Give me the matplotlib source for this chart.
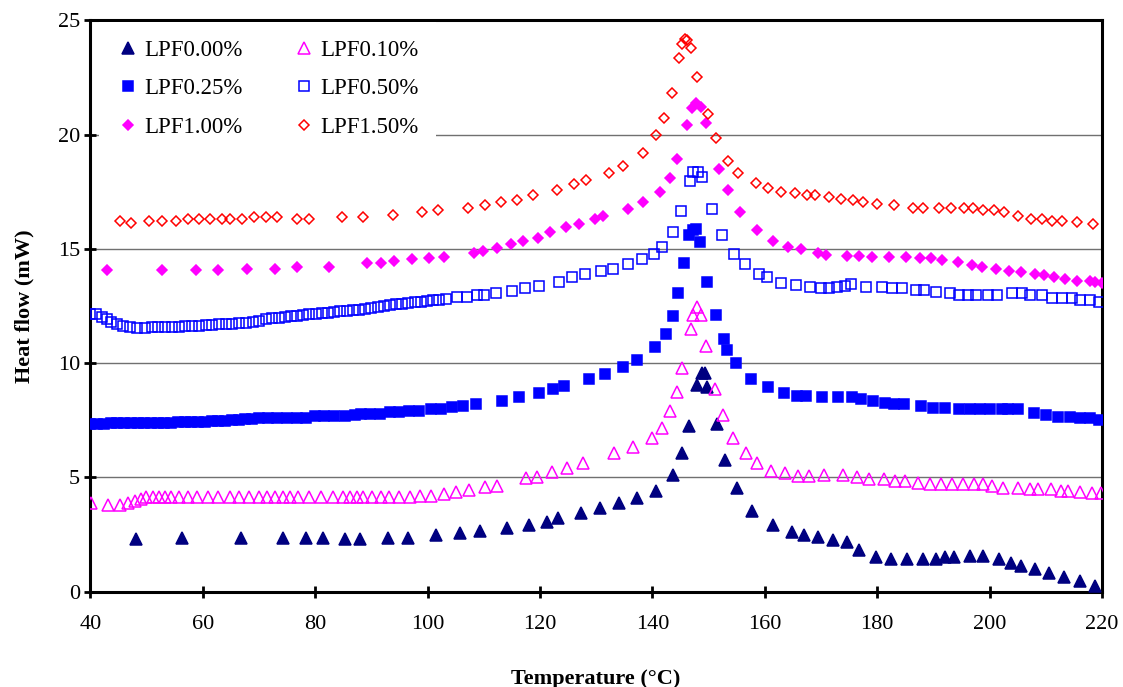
import matplotlib
matplotlib.use("Agg")
import matplotlib.pyplot as plt

# (temperature °C, heat flow mW)
lpf000 = [(48.1, 2.32), (56.4, 2.35), (66.8, 2.35), (74.3, 2.35), (78.3, 2.35), (81.4, 2.35),
          (85.3, 2.30), (88.0, 2.30), (92.9, 2.35), (96.6, 2.35), (101.5, 2.46), (105.7, 2.55),
          (109.3, 2.65), (114.2, 2.77), (118.1, 2.92), (121.2, 3.06), (123.3, 3.21), (127.3, 3.43),
          (130.7, 3.65), (134.0, 3.89), (137.3, 4.11), (140.7, 4.40), (143.7, 5.10), (145.3, 6.05),
          (146.5, 7.25), (148.0, 9.04), (148.8, 9.55), (149.4, 9.55), (149.8, 8.97), (151.5, 7.32),
          (152.9, 5.76), (155.0, 4.55), (157.8, 3.53), (161.4, 2.92), (164.8, 2.63), (167.0, 2.48),
          (169.4, 2.41), (172.1, 2.26), (174.6, 2.19), (176.7, 1.82), (179.8, 1.50), (182.5, 1.42),
          (185.3, 1.42), (188.2, 1.42), (190.4, 1.42), (192.0, 1.50), (193.7, 1.50), (196.5, 1.56),
          (198.9, 1.56), (201.7, 1.42), (203.8, 1.27), (205.6, 1.12), (208.1, 0.98), (210.5, 0.80),
          (213.3, 0.66), (216.0, 0.48), (218.8, 0.25)]

lpf010 = [(40.1, 3.87), (43.2, 3.79), (45.3, 3.79), (46.7, 3.89), (48.0, 3.98), (49.1, 4.04),
          (50.0, 4.13), (51.2, 4.13), (52.3, 4.13), (53.3, 4.13), (54.3, 4.13), (55.7, 4.13),
          (57.4, 4.13), (59.0, 4.13), (61.0, 4.13), (62.8, 4.13), (64.9, 4.13), (66.5, 4.13),
          (68.3, 4.13), (70.1, 4.13), (71.4, 4.13), (72.9, 4.13), (74.3, 4.13), (75.5, 4.13),
          (77.0, 4.13), (79.0, 4.13), (81.0, 4.13), (83.1, 4.13), (84.9, 4.13), (86.2, 4.13),
          (87.4, 4.13), (88.6, 4.13), (90.1, 4.13), (91.7, 4.13), (93.2, 4.13), (95.0, 4.13),
          (96.9, 4.13), (98.7, 4.19), (100.7, 4.19), (102.9, 4.27), (105.1, 4.36), (107.4, 4.45),
          (110.2, 4.59), (112.3, 4.64), (117.6, 4.96), (119.4, 5.03), (122.1, 5.25), (124.9, 5.40),
          (127.6, 5.62), (133.2, 6.05), (136.5, 6.34), (139.9, 6.74), (141.7, 7.17), (143.2, 7.92),
          (144.4, 8.75), (145.3, 9.77), (146.8, 11.48), (147.2, 12.10), (147.9, 12.44), (148.7, 12.10),
          (149.6, 10.75), (151.1, 8.88), (152.6, 7.72), (154.4, 6.74), (156.6, 6.05), (158.7, 5.62),
          (161.1, 5.29), (163.6, 5.18), (166.0, 5.07), (167.8, 5.07), (170.5, 5.10), (173.9, 5.10),
          (176.4, 5.00), (178.6, 4.92), (181.3, 4.92), (183.1, 4.86), (185.0, 4.86), (187.3, 4.77),
          (189.4, 4.71), (191.3, 4.71), (193.4, 4.71), (195.3, 4.71), (197.3, 4.71), (198.9, 4.71),
          (200.5, 4.62), (202.3, 4.52), (205.1, 4.52), (207.2, 4.48), (208.7, 4.48), (210.9, 4.48),
          (212.7, 4.42), (214.0, 4.42), (216.1, 4.37), (218.2, 4.33), (219.8, 4.33)]

lpf025 = [(40.0, 7.34), (41.2, 7.35), (42.4, 7.35), (43.6, 7.36), (44.8, 7.36), (46.0, 7.37),
          (47.2, 7.37), (48.4, 7.38), (49.6, 7.38), (50.8, 7.39), (52.0, 7.39), (53.2, 7.40),
          (54.4, 7.40), (55.6, 7.41), (56.8, 7.42), (58.0, 7.43), (59.2, 7.44), (60.4, 7.44),
          (61.6, 7.45), (62.8, 7.46), (64.0, 7.47), (65.2, 7.49), (66.4, 7.52), (67.6, 7.54),
          (68.8, 7.56), (70.0, 7.58), (71.7, 7.58), (73.3, 7.58), (75.0, 7.58), (76.7, 7.60),
          (78.3, 7.62), (80.0, 7.70), (81.6, 7.70), (83.3, 7.70), (85.3, 7.70), (87.1, 7.72),
          (88.2, 7.77), (89.8, 7.77), (91.5, 7.77), (93.3, 7.85), (95.0, 7.87), (96.7, 7.92),
          (98.4, 7.92), (100.6, 7.99), (102.4, 7.99), (104.3, 8.07), (106.4, 8.12), (108.6, 8.19),
          (113.2, 8.36), (116.3, 8.50), (119.8, 8.71), (122.3, 8.85), (124.3, 9.00), (128.7, 9.30),
          (131.5, 9.52), (134.8, 9.82), (137.2, 10.14), (140.5, 10.72), (142.4, 11.26), (143.6, 12.07),
          (144.5, 13.05), (145.7, 14.39), (146.6, 15.60), (147.2, 15.82), (147.8, 15.85), (148.5, 15.31),
          (149.7, 13.56), (151.3, 12.10), (152.8, 11.04), (153.3, 10.57), (154.9, 10.02), (157.6, 9.30),
          (160.6, 8.94), (163.4, 8.71), (165.7, 8.57), (167.3, 8.57), (170.1, 8.50), (173.1, 8.50),
          (175.5, 8.50), (177.1, 8.42), (179.2, 8.36), (181.4, 8.27), (183.0, 8.20), (184.7, 8.20),
          (187.8, 8.12), (189.9, 8.05), (192.0, 8.05), (194.5, 7.98), (196.5, 7.98), (198.3, 7.98),
          (200.0, 7.98), (202.2, 7.98), (203.3, 7.98), (205.1, 7.98), (207.9, 7.80), (210.0, 7.73),
          (212.1, 7.66), (214.3, 7.66), (216.1, 7.59), (217.8, 7.59), (219.5, 7.51)]

lpf050 = [(40.0, 12.15), (41.1, 12.15), (42.1, 12.03), (42.9, 11.92), (43.7, 11.81), (44.7, 11.70),
          (45.9, 11.62), (47.1, 11.57), (48.3, 11.54), (49.7, 11.55), (50.9, 11.57), (52.1, 11.58),
          (53.3, 11.59), (54.5, 11.59), (55.7, 11.60), (56.9, 11.61), (58.1, 11.62), (59.3, 11.64),
          (60.5, 11.66), (61.7, 11.67), (62.9, 11.69), (64.1, 11.71), (65.3, 11.73), (66.5, 11.75),
          (67.7, 11.77), (68.9, 11.81), (70.1, 11.85), (71.3, 11.93), (72.4, 11.96), (73.5, 11.99),
          (74.6, 12.03), (75.7, 12.06), (76.8, 12.08), (77.9, 12.10), (79.0, 12.13), (80.1, 12.15),
          (81.2, 12.18), (82.3, 12.20), (83.4, 12.23), (84.5, 12.26), (85.6, 12.28), (86.7, 12.31),
          (87.8, 12.34), (88.9, 12.38), (90.0, 12.42), (91.1, 12.45), (92.2, 12.49), (93.3, 12.54),
          (94.4, 12.57), (95.5, 12.60), (96.6, 12.63), (97.7, 12.66), (98.8, 12.69), (99.9, 12.71),
          (101.0, 12.74), (102.1, 12.77), (103.2, 12.80), (105.2, 12.88), (107.0, 12.91), (108.8, 12.97),
          (110.1, 12.97), (112.2, 13.05), (115.0, 13.15), (117.4, 13.27), (119.8, 13.37), (123.4, 13.56),
          (125.7, 13.75), (128.0, 13.88), (130.8, 14.03), (133.0, 14.10), (135.6, 14.32), (138.1, 14.55),
          (140.3, 14.77), (141.8, 15.06), (143.6, 15.75), (145.1, 16.65), (146.7, 17.98), (147.3, 18.37),
          (148.1, 18.37), (148.8, 18.15), (150.6, 16.73), (152.4, 15.60), (154.6, 14.77), (156.4, 14.32),
          (158.9, 13.88), (160.4, 13.75), (162.8, 13.49), (165.5, 13.42), (168.1, 13.34), (170.0, 13.27),
          (171.5, 13.27), (172.9, 13.34), (174.3, 13.37), (175.3, 13.45), (178.1, 13.34), (180.8, 13.34),
          (182.6, 13.27), (184.4, 13.27), (186.9, 13.20), (188.3, 13.20), (190.5, 13.12), (193.0, 13.05),
          (194.6, 12.98), (196.1, 12.98), (197.6, 12.98), (199.7, 12.98), (201.4, 12.98), (204.0, 13.08),
          (205.7, 13.05), (207.2, 12.98), (209.3, 12.98), (211.1, 12.83), (212.9, 12.83), (214.6, 12.83),
          (216.1, 12.76), (217.8, 12.76), (219.5, 12.69)]

lpf100 = [(42.9, 14.07), (52.7, 14.07), (58.8, 14.07), (62.7, 14.07), (67.9, 14.13), (72.9, 14.13),
          (76.7, 14.22), (82.5, 14.22), (89.2, 14.37), (91.7, 14.37), (94.1, 14.45), (97.2, 14.54),
          (100.2, 14.60), (102.9, 14.65), (108.2, 14.83), (109.9, 14.89), (112.3, 15.04), (114.8, 15.21),
          (116.9, 15.34), (119.6, 15.48), (121.8, 15.72), (124.6, 15.94), (127.0, 16.08), (129.8, 16.30),
          (131.3, 16.45), (135.6, 16.74), (138.3, 17.06), (141.4, 17.50), (143.2, 18.08), (144.3, 18.93),
          (146.2, 20.42), (147.0, 21.17), (147.8, 21.37), (148.6, 21.22), (149.6, 20.49), (151.9, 18.48),
          (153.5, 17.57), (155.6, 16.62), (158.7, 15.82), (161.5, 15.35), (164.2, 15.09), (166.4, 14.97),
          (169.4, 14.80), (170.9, 14.73), (174.6, 14.69), (176.7, 14.69), (179.0, 14.65), (182.1, 14.65),
          (185.1, 14.65), (187.6, 14.58), (189.5, 14.58), (191.6, 14.51), (194.4, 14.41), (196.8, 14.29),
          (198.6, 14.22), (201.2, 14.12), (203.5, 14.04), (205.6, 13.97), (208.1, 13.90), (209.6, 13.85),
          (211.5, 13.78), (213.5, 13.68), (215.6, 13.60), (217.8, 13.60), (218.8, 13.56), (220.0, 13.49)]

lpf150 = [(45.2, 16.23), (47.2, 16.14), (50.5, 16.23), (52.7, 16.23), (55.2, 16.23), (57.3, 16.30),
          (59.4, 16.30), (61.3, 16.30), (63.4, 16.30), (64.9, 16.30), (67.0, 16.30), (69.1, 16.38),
          (71.3, 16.38), (73.2, 16.38), (76.8, 16.30), (78.9, 16.30), (84.7, 16.38), (88.6, 16.38),
          (93.8, 16.47), (99.1, 16.61), (101.9, 16.70), (107.2, 16.77), (110.2, 16.92), (113.0, 17.03),
          (116.0, 17.13), (118.8, 17.34), (123.0, 17.57), (126.1, 17.82), (128.2, 18.01), (132.2, 18.33),
          (134.7, 18.64), (138.3, 19.20), (140.7, 19.98), (142.1, 20.71), (143.5, 21.83), (144.7, 23.33),
          (145.3, 23.95), (145.8, 24.17), (146.2, 24.14), (146.8, 23.77), (148.0, 22.50), (149.9, 20.88),
          (151.4, 19.83), (153.5, 18.85), (155.3, 18.33), (158.4, 17.89), (160.5, 17.65), (162.9, 17.50),
          (165.4, 17.45), (167.5, 17.37), (169.0, 17.37), (171.5, 17.25), (173.6, 17.18), (175.7, 17.13),
          (177.5, 17.03), (180.0, 16.96), (183.0, 16.92), (186.4, 16.77), (188.2, 16.77), (191.0, 16.77),
          (193.1, 16.77), (195.4, 16.77), (197.0, 16.77), (198.8, 16.70), (200.7, 16.70), (202.5, 16.60),
          (205.0, 16.45), (207.4, 16.30), (209.3, 16.30), (211.1, 16.23), (212.9, 16.23), (215.6, 16.16),
          (218.4, 16.07)]

labels = ["LPF0.00%", "LPF0.10%", "LPF0.25%", "LPF0.50%", "LPF1.00%", "LPF1.50%"]
series = [lpf000, lpf010, lpf025, lpf050, lpf100, lpf150]

# marker, colour, filled, size
styles = [("^", "#000080", True, 8.5),
          ("^", "#FF00FF", False, 8.5),
          ("s", "#0000FF", True, 6.5),
          ("s", "#0000FF", False, 6.5),
          ("D", "#FF00FF", True, 5.6),
          ("D", "#FF0000", False, 5.6)]

plt.rcParams["font.family"] = ["Liberation Serif", "DejaVu Serif"]

fig = plt.figure(figsize=(11.23, 6.87), dpi=100)
ax = fig.add_axes([0.0804, 0.1387, 0.9009, 0.8319])

handles = []
for data, lab, (m, c, filled, ms) in zip(series, labels, styles):
    t = [p[0] for p in data]
    q = [p[1] for p in data]
    h, = ax.plot(t, q, linestyle="none", marker=m, markersize=ms,
                 markerfacecolor=c if filled else "none", markeredgecolor=c,
                 markeredgewidth=1.1, label=lab, zorder=3)
    handles.append(h)

ax.set_xlim(40, 220)
ax.set_ylim(0, 25)
ax.set_xticks(range(40, 221, 20))
ax.set_yticks(range(0, 26, 5))
ax.yaxis.grid(True, color="#707070", linewidth=1.0)
ax.set_axisbelow(True)

for s in ax.spines.values():
    s.set_linewidth(2.2)
ax.tick_params(axis="both", direction="inout", length=9, width=2, labelsize=16)
ax.tick_params(axis="x", pad=12)
ax.tick_params(axis="y", pad=3)

ax.set_xlabel("Temperature (°C)", fontsize=16, fontweight="bold")
ax.xaxis.set_label_coords(0.5, -0.135)
ax.set_ylabel("Heat flow (mW)", fontsize=16, fontweight="bold")
ax.yaxis.set_label_coords(-0.055, 0.5)

order = [0, 2, 4, 1, 3, 5]
leg = ax.legend([handles[i] for i in order], [labels[i] for i in order],
                ncol=2, loc="upper left", bbox_to_anchor=(0.0064, 1.0),
                borderaxespad=0.1, borderpad=0.77, fontsize=16.5,
                frameon=True, fancybox=False, framealpha=1,
                handlelength=1.0, handletextpad=0.2, columnspacing=2.17,
                labelspacing=0.75, markerscale=1.0)
leg.get_frame().set_edgecolor("none")
leg.get_frame().set_facecolor("white")

fig.savefig("out.png", dpi=100)
